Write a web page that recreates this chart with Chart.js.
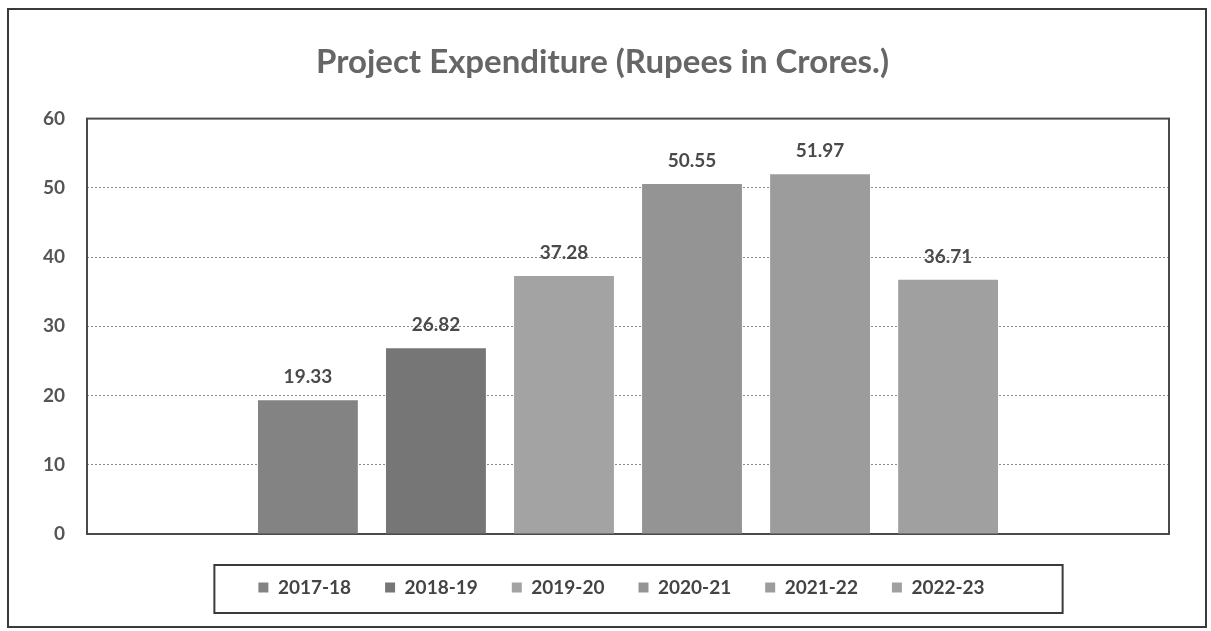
<!DOCTYPE html>
<html>
<head>
<meta charset="utf-8">
<script src="https://cdn.jsdelivr.net/npm/chart.js@4/dist/chart.umd.min.js"></script>
<style>
html,body{margin:0;padding:0;background:#fff;}
#wrap{width:1211px;height:631px;position:relative;}
</style>
</head>
<body>
<div id="wrap"><canvas id="c" width="1211" height="631"></canvas></div>
<script>
// ---- data ----
const categories = ['2017-18', '2018-19', '2019-20', '2020-21', '2021-22', '2022-23'];
const values = [19.33, 26.82, 37.28, 50.55, 51.97, 36.71];
const barColors = ['#838383', '#767676', '#a3a3a3', '#949494', '#9c9c9c', '#a0a0a0'];
const yTicks = [0, 10, 20, 30, 40, 50, 60];
const titleText = 'Project Expenditure (Rupees in Crores.)';

const FONT = 'Lato, "Open Sans", sans-serif';

const frame = {
  id: 'frame',
  afterLayout(chart) {
    // nudge the legend block slightly right, as in the original
    const lg = chart.legend;
    if (lg) { lg.left += 19; lg.right += 19; }
  },
  beforeDraw(chart) {
    const ctx = chart.ctx;
    ctx.save();
    ctx.fillStyle = '#fff';
    ctx.fillRect(0, 0, chart.width, chart.height);
    ctx.strokeStyle = '#3a3a3a';
    ctx.lineWidth = 2;
    ctx.strokeRect(8, 9, 1198, 618);
    ctx.restore();
  },
  beforeDatasetsDraw(chart) {
    const {ctx, chartArea: a} = chart;
    ctx.save();
    ctx.strokeStyle = '#4a4a4a';
    ctx.lineWidth = 2;
    ctx.strokeRect(a.left, a.top, a.right - a.left, a.bottom - a.top);
    ctx.restore();
  },
  afterDatasetsDraw(chart) {
    const ctx = chart.ctx;
    ctx.save();
    ctx.font = 'bold 19px ' + FONT;
    ctx.fillStyle = '#4a4a4a';
    ctx.textAlign = 'center';
    ctx.textBaseline = 'middle';
    chart.data.datasets.forEach((ds, i) => {
      const bar = chart.getDatasetMeta(i).data[0];
      ctx.fillText(ds.data[0].toFixed(2), bar.x, bar.y - 23);
    });
    ctx.restore();
  },
  afterDraw(chart) {
    const lg = chart.legend;
    if (!lg || !lg.legendHitBoxes || !lg.legendHitBoxes.length) return;
    const hb = lg.legendHitBoxes;
    const first = hb[0], last = hb[hb.length - 1];
    const cy = first.top + first.height / 2;
    const ctx = chart.ctx;
    ctx.save();
    ctx.strokeStyle = '#3a3a3a';
    ctx.lineWidth = 2;
    const l = first.left - 44, r = last.left + last.width + 78;
    ctx.strokeRect(l, cy - 22.5, r - l, 48);
    ctx.restore();
  }
};

new Chart(document.getElementById('c'), {
  type: 'bar',
  data: {
    labels: [''],
    datasets: categories.map((c, i) => ({
      label: c,
      data: [values[i]],
      backgroundColor: barColors[i],
      borderWidth: 0,
      categoryPercentage: 0.71,
      barPercentage: 0.78
    }))
  },
  plugins: [frame],
  options: {
    responsive: false,
    animation: false,
    devicePixelRatio: 1,
    layout: { padding: { left: 36, right: 42, top: 0, bottom: 24 } },
    plugins: {
      title: {
        display: true,
        text: titleText,
        color: '#666666',
        font: { family: FONT, size: 33, weight: 'bold' },
        padding: { top: 43, bottom: 36 }
      },
      legend: {
        display: true,
        position: 'bottom',
        labels: {
          boxWidth: 10,
          boxHeight: 10,
          padding: 34,
          color: '#444444',
          font: { family: FONT, size: 19, weight: 'bold' }
        }
      },
      tooltip: { enabled: false }
    },
    scales: {
      x: {
        display: true,
        grid: { display: false },
        border: { display: false },
        ticks: { display: false },
        afterFit(scale) { scale.height = 10; }
      },
      y: {
        min: 0,
        max: 60,
        afterBuildTicks(scale) { scale.ticks = yTicks.map(v => ({ value: v })); },
        afterFit(scale) { scale.width = 51; },
        ticks: {
          color: '#555555',
          padding: 22,
          font: { family: FONT, size: 19, weight: 'bold' }
        },
        grid: {
          color: '#8e8e8e',
          lineWidth: 1,
          drawTicks: false
        },
        border: { display: false, dash: [2, 2] }
      }
    }
  }
});
</script>
</body>
</html>
